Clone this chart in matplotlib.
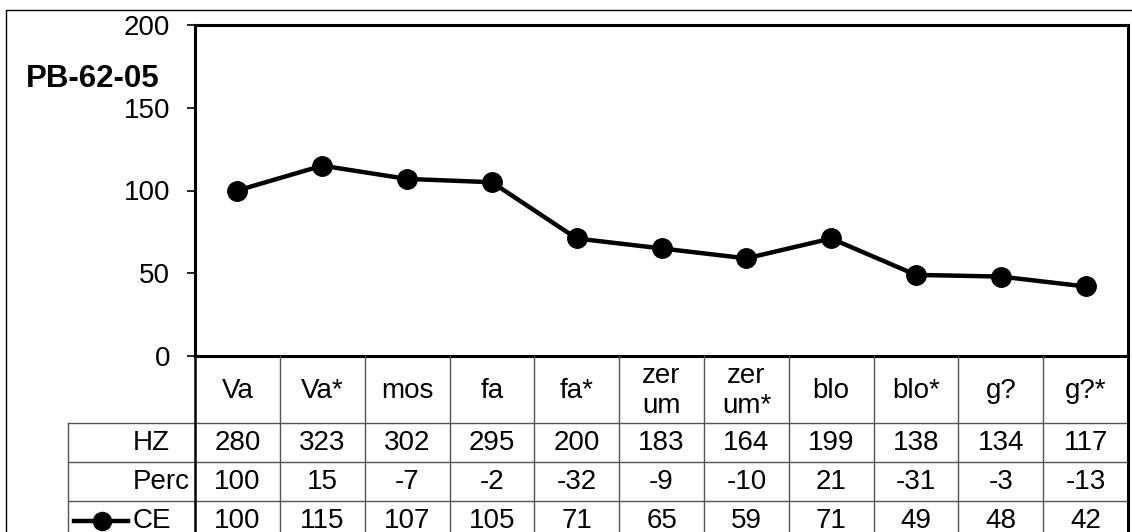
import matplotlib
matplotlib.use("Agg")
import matplotlib.pyplot as plt
from matplotlib.lines import Line2D

plt.rcParams['font.family'] = ['Liberation Sans', 'DejaVu Sans']

title = "PB-62-05"
categories = ["Va", "Va*", "mos", "fa", "fa*", "zer\num", "zer\num*", "blo", "blo*", "g?", "g?*"]
hz = [280, 323, 302, 295, 200, 183, 164, 199, 138, 134, 117]
perc = [100, 15, -7, -2, -32, -9, -10, 21, -31, -3, -13]
ce = [100, 115, 107, 105, 71, 65, 59, 71, 49, 48, 42]
row_labels = ["HZ", "Perc", "CE"]
yticks = [0, 50, 100, 150, 200]

W, H = 1132, 532
fig = plt.figure(figsize=(W / 100, H / 100), dpi=100)

def px_axes(x0, y0, x1, y1, **kw):
    return fig.add_axes([x0 / W, 1 - y1 / H, (x1 - x0) / W, (y1 - y0) / H], **kw)

# outer border (extends beyond canvas on right/bottom)
bg = px_axes(0, 0, W, H)
bg.set_xlim(0, W); bg.set_ylim(H, 0); bg.axis('off')
bg.plot([6, 6, W + 10], [H + 10, 10, 10], color='black', lw=1.0, clip_on=False)

PL, PR, PT, PB = 195, 1128, 25, 356
ncol = len(categories)

fs = 20

# main plot
ax = px_axes(PL, PT, PR, PB)
x = list(range(ncol))
ax.plot(x, ce, color='black', lw=3.2, marker='o', markersize=14, zorder=3, clip_on=False)
ax.set_xlim(-0.5, ncol - 0.5)
ax.set_ylim(0, 200)
ax.set_yticks(yticks)
ax.set_yticklabels([str(v) for v in yticks], fontsize=fs)
ax.tick_params(axis='y', direction='out', length=6, width=1.2, pad=12)
ax.set_xticks([])
for s in ax.spines.values():
    s.set_linewidth(2.2)
    s.set_color('black')

fig.text(93 / W, 1 - 79 / H, title, fontsize=22.5, fontweight='bold', ha='center', va='center')

# data table
TL = 68
TB = 545
tax = px_axes(TL, PB, PR, TB)
tax.set_xlim(-2.0, ncol - 0.5)
tax.set_ylim(TB, PB)
tax.axis('off')

row_edges = [PB, 423, 462, 501, 540]
gray = '#555555'
for y in row_edges[1:]:
    tax.plot([-2.0, ncol - 0.5], [y, y], color=gray, lw=1.0, clip_on=False)
for j in range(1, ncol):
    tax.plot([j - 0.5, j - 0.5], [PB, TB], color=gray, lw=1.0, clip_on=False)
tax.plot([-0.5, -0.5], [PB, TB], color='black', lw=1.8, clip_on=False)
tax.plot([ncol - 0.5, ncol - 0.5], [PB, TB], color='black', lw=2.2, clip_on=False)
tax.plot([-2.0, -2.0], [423, TB], color=gray, lw=1.0, clip_on=False)

for j, c in enumerate(categories):
    tax.text(j, (row_edges[0] + row_edges[1]) / 2 + 1, c, ha='center', va='center',
             fontsize=fs, linespacing=1.2)
rows = [hz, perc, ce]
colw = (PR - PL) / ncol
label_x = -2.0 + (133 - TL) / colw
for i, (lab, vals) in enumerate(zip(row_labels, rows)):
    yc = (row_edges[i + 1] + row_edges[i + 2]) / 2
    tax.text(label_x, yc, lab, ha='left', va='center', fontsize=fs)
    for j, v in enumerate(vals):
        tax.text(j, yc, str(v), ha='center', va='center', fontsize=fs)

# legend key in CE row
yc = (row_edges[3] + row_edges[4]) / 2
k0 = -2.0 + (74 - TL) / colw
k1 = -2.0 + (128 - TL) / colw
km = -2.0 + (102 - TL) / colw
tax.add_line(Line2D([k0, k1], [yc, yc], color='black', lw=3.2, clip_on=False))
tax.plot([km], [yc], marker='o', color='black', markersize=13, clip_on=False)

fig.savefig("out.png", dpi=100)
